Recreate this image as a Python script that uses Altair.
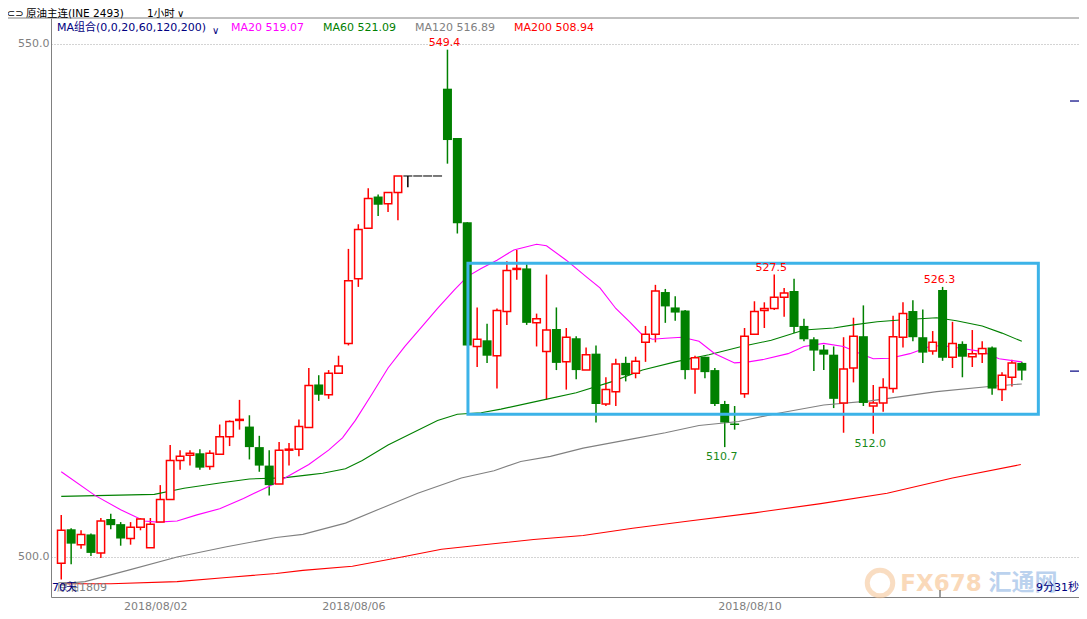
import altair as alt
import numpy as np
import pandas as pd

# ---------------- candle data (1 hour bars) ----------------
opens = [499.4, 502.7, 501.2, 502.2, 500.4, 503.7, 503.2, 501.8, 502.9, 500.9,
         503.4, 505.6, 509.4, 509.9, 510.1, 508.8, 510.0, 511.7, 513.3, 512.7,
         510.7, 508.9, 507.1, 510.4, 510.5, 512.6, 516.8, 515.8, 517.9, 520.8,
         527.1, 532.0, 535.1, 534.4, 535.5, 537.1, 537.1, 537.1, 537.1, 545.6,
         540.8, 532.6, 520.5, 521.1, 519.6, 523.9, 528.0, 528.1, 522.8, 520.0,
         522.2, 519.0, 521.3, 518.2, 519.8, 514.9, 516.1, 518.9, 517.9, 520.9,
         521.7, 525.8, 524.3, 524.0, 518.3, 519.5, 518.2, 514.9, 513.0, 515.9,
         521.7, 524.0, 524.2, 525.3, 525.9, 522.5, 521.2, 520.2, 519.7, 515.0,
         518.4, 521.5, 514.7, 515.0, 516.4, 521.4, 523.95, 521.4, 520.05, 526.0,
         519.45, 520.75, 519.5, 519.8, 520.4, 516.3, 517.5, 518.9]
highs = [504.1, 502.8, 502.6, 502.3, 503.8, 504.2, 503.4, 503.4, 503.8, 503.8,
         507.0, 510.9, 510.4, 510.4, 510.5, 510.4, 512.9, 513.3, 515.3, 513.8,
         511.8, 510.4, 511.2, 511.1, 513.4, 518.4, 517.7, 518.2, 519.6, 530.0,
         532.4, 535.9, 535.3, 535.5, 537.1, 537.1, 537.1, 537.1, 537.1, 549.4,
         540.8, 532.6, 524.3, 522.7, 524.2, 528.8, 529.9, 528.5, 523.7, 527.5,
         524.3, 522.3, 521.5, 520.4, 520.6, 517.5, 519.3, 519.5, 519.5, 522.5,
         526.5, 526.1, 525.4, 524.05, 519.6, 519.5, 518.4, 515.2, 514.7, 522.3,
         524.9, 524.8, 527.5, 526.2, 527.1, 523.2, 521.4, 520.65, 520.5, 521.4,
         523.3, 524.5, 516.75, 517.4, 523.5, 524.8, 525.0, 524.1, 522.0, 526.3,
         522.9, 521.0, 522.1, 521.0, 520.5, 518.0, 519.2, 519.0]
lows = [497.8, 499.3, 500.8, 500.1, 499.9, 502.7, 501.1, 501.2, 502.6, 500.9,
        503.4, 505.6, 508.5, 508.9, 508.5, 508.5, 510.0, 510.8, 512.4, 509.5,
        508.3, 506.0, 507.1, 508.9, 509.8, 512.6, 515.2, 515.4, 517.9, 520.6,
        526.3, 532.0, 533.2, 533.6, 532.8, 536.0, 537.1, 537.1, 537.1, 538.3,
        531.5, 520.6, 518.5, 518.9, 516.4, 522.6, 527.0, 522.6, 520.5, 515.3,
        518.2, 516.3, 517.3, 518.2, 513.1, 514.7, 514.7, 517.1, 517.4, 519.0,
        520.9, 522.8, 523.0, 517.3, 515.9, 517.4, 514.7, 510.7, 512.4, 515.5,
        521.7, 522.3, 524.05, 523.4, 521.8, 521.0, 518.1, 518.2, 514.5, 512.1,
        517.0, 514.7, 512.0, 514.15, 516.0, 520.4, 521.0, 518.9, 519.7, 519.1,
        518.4, 517.5, 518.5, 518.9, 515.8, 515.2, 516.6, 517.2]
closes = [502.6, 501.3, 502.2, 500.4, 503.5, 503.1, 501.8, 502.9, 503.7, 503.2,
          505.6, 509.4, 509.8, 510.1, 508.7, 510.1, 511.7, 513.2, 513.4, 510.7,
          508.9, 507.0, 510.4, 510.5, 512.7, 516.7, 515.8, 517.9, 518.6, 526.9,
          531.9, 534.9, 534.3, 535.5, 537.1, 537.1, 537.1, 537.1, 537.1, 540.6,
          532.5, 520.6, 521.2, 519.6, 524.0, 527.9, 528.1, 522.8, 523.2, 522.1,
          518.9, 521.4, 518.2, 519.7, 514.9, 516.3, 518.8, 517.7, 519.05, 521.7,
          525.9, 524.4, 523.8, 518.2, 519.4, 518.0, 514.9, 513.1, 512.85, 521.5,
          523.9, 524.2, 525.3, 525.7, 522.4, 521.2, 520.1, 519.7, 515.4, 518.3,
          521.5, 515.0, 515.0, 516.5, 521.45, 523.7, 521.4, 519.9, 520.9, 519.4,
          520.8, 519.5, 519.8, 520.3, 516.4, 517.7, 518.9, 518.15]

# ---------------- moving averages ----------------
ma20_i = [0, 3.4, 6.0, 8.4, 9.7, 11.7, 13.7, 16.0, 18.4, 21.0, 22.4, 25.0, 27.0, 28.4, 29.7,
          31.4, 33.0, 34.7, 36.4, 38.0, 39.7, 41.0, 42.4, 44.0, 45.7, 48.0, 49.0, 51.0, 53.0,
          54.4, 56.0, 57.4, 58.7, 59.7, 61.0, 62.7, 64.4, 66.0, 68.0, 69.4, 71.0, 73.4, 75.0,
          77.0, 79.0, 80.7, 82.0, 83.7, 85.7, 87.7, 89.0, 91.0, 93.0, 94.7, 97.0]
ma20_v = [508.3, 506.0, 504.6, 503.5, 503.4, 503.5, 504.1, 504.7, 505.7, 506.9, 507.6, 509.0,
          510.4, 511.6, 513.3, 515.9, 518.4, 520.5, 522.4, 524.2, 526.0, 527.3, 528.1, 528.9,
          529.9, 530.45, 530.3, 528.9, 527.3, 526.2, 524.2, 522.9, 521.6, 521.2, 521.3, 521.4,
          521.0, 519.8, 518.9, 519.0, 519.25, 519.8, 520.5, 520.8, 520.5, 519.8, 519.3, 519.35,
          519.8, 520.5, 520.6, 520.3, 520.0, 519.3, 519.0]
ma60_i = [0, 9.4, 12.4, 16.0, 19.0, 22.4, 25.0, 26.4, 28.7, 30.4, 33.0, 35.7, 38.0, 40.0, 42.4,
          44.4, 48.7, 52.0, 55.7, 58.7, 62.0, 65.4, 68.7, 71.7, 75.0, 78.0, 80.0, 82.4, 85.0,
          88.4, 90.4, 93.0, 95.0, 97.0]
ma60_v = [505.9, 506.1, 506.7, 507.2, 507.6, 507.7, 508.0, 508.15, 508.6, 509.4, 510.9, 512.2,
          513.3, 513.9, 514.05, 514.4, 515.3, 516.0, 517.1, 518.2, 519.0, 519.7, 520.5, 521.1,
          522.1, 522.3, 522.6, 522.9, 523.1, 523.3, 523.0, 522.5, 521.8, 521.0]
ma120_i = [0, 2.4, 6.7, 11.7, 16.7, 21.7, 24.4, 28.7, 32.7, 36.0, 40.4, 43.7, 46.4, 49.4, 52.7,
           57.7, 61.0, 64.4, 68.4, 72.4, 77.0, 81.7, 88.4, 93.7, 97.0]
ma120_v = [497.4, 497.6, 498.7, 500.0, 501.0, 501.9, 502.2, 503.3, 504.9, 506.2, 507.7, 508.4,
           509.3, 509.8, 510.6, 511.5, 512.1, 512.8, 513.2, 514.0, 514.8, 515.2, 516.1, 516.6,
           516.85]
ma200_i = [0, 5.0, 11.7, 16.7, 21.7, 24.4, 29.4, 34.4, 38.4, 41.7, 47.7, 52.7, 57.7, 63.4, 70.0,
           76.7, 83.4, 90.0, 96.9]
ma200_v = [497.4, 497.4, 497.6, 498.0, 498.4, 498.7, 499.1, 500.0, 500.75, 501.1, 501.7, 502.1,
           502.8, 503.5, 504.3, 505.2, 506.2, 507.7, 509.0]

# ---------------- annotations ----------------
hi_i = [39, 72, 89]
hi_v = [549.4, 527.5, 526.3]
lo_i = [67, 82]
lo_v = [510.7, 512.0]
box_i = [41.07, 98.67]
box_p = [513.9, 528.6]
marker_p = [544.4, 518.1]

date_pos = [9.5, 29.5, 69.5]
date_labels = ["2018/08/02", "2018/08/06", "2018/08/10"]
price_ticks = [500, 550]

legend_items = [("MA20 519.07", "#ff00ff", 180), ("MA60 521.09", "#008000", 272),
                ("MA120 516.89", "#808080", 364), ("MA200 508.94", "#ff0000", 463)]

# ---------------- build tables ----------------
df = pd.DataFrame({"i": list(range(len(opens))), "o": opens, "h": highs, "l": lows, "c": closes})
df["dir"] = np.where(df.c > df.o, "up", np.where(df.c < df.o, "down", "flat"))
df["top"] = df[["o", "c"]].max(axis=1)
df["bot"] = df[["o", "c"]].min(axis=1)

FONT = "DejaVu Sans, Noto Sans CJK SC"
xs = alt.Scale(domain=[-0.53, 102.27], nice=False, zero=False)
ys = alt.Scale(domain=[496.105, 552.483], nice=False, zero=False)

expr = "{" + ",".join(f"'{p}':'{l}'" for p, l in zip(date_pos, date_labels)) + "}[toString(datum.value)]"
x_axis = alt.Axis(values=date_pos, labelExpr=expr, title=None, ticks=False, grid=False,
                  domainColor="#808080", labelColor="#808080", labelFont="DejaVu Sans",
                  labelFontSize=11, labelPadding=3, labelOverlap=False, labelFlush=False)
y_axis = alt.Axis(values=price_ticks, format=".1f", title=None, ticks=False, grid=True,
                  gridColor="#a8a8a8", gridDash=[1, 2], domainColor="#808080",
                  labelColor="#808080", labelFont="DejaVu Sans", labelFontSize=11, labelPadding=2)


def XQ(field):
    return alt.X(f"{field}:Q", scale=xs, axis=x_axis)


def YQ(field):
    return alt.Y(f"{field}:Q", scale=ys, axis=y_axis)


base = alt.Chart(df)

wicks = base.mark_rule(strokeWidth=1.5).encode(
    x=XQ("i"), y=YQ("l"), y2="h:Q",
    color=alt.Color("dir:N", scale=alt.Scale(domain=["up", "down", "flat"],
                                             range=["#ff0000", "#008000", "#000000"]), legend=None),
)
up = base.transform_filter("datum.dir == 'up'").mark_bar(
    size=7.5, fill="white", stroke="#ff0000", strokeWidth=1.5).encode(
    x=XQ("i"), y=YQ("bot"), y2="top:Q")
down = base.transform_filter("datum.dir == 'down'").mark_bar(
    size=9, color="#008000").encode(x=XQ("i"), y=YQ("bot"), y2="top:Q")
flat = base.transform_filter("datum.dir == 'flat'").mark_tick(
    orient="horizontal", size=9, thickness=1.5, color="#000000").encode(x=XQ("i"), y=YQ("c"))


def ma_layer(ii, vv, color):
    d = pd.DataFrame({"i": ii, "v": vv})
    return alt.Chart(d).mark_line(color=color, strokeWidth=1.1).encode(x=XQ("i"), y=YQ("v"))


ma_lines = [ma_layer(ma200_i, ma200_v, "#ff0000"), ma_layer(ma120_i, ma120_v, "#808080"),
            ma_layer(ma60_i, ma60_v, "#008000"), ma_layer(ma20_i, ma20_v, "#ff00ff")]

box_df = pd.DataFrame({"x1": [box_i[0]], "x2": [box_i[1]], "y1": [box_p[0]], "y2": [box_p[1]]})
box = alt.Chart(box_df).mark_rect(fillOpacity=0, stroke="#3cb3e8", strokeWidth=3).encode(
    x=XQ("x1"), x2="x2:Q", y=YQ("y1"), y2="y2:Q")

hi_df = pd.DataFrame({"i": hi_i, "v": hi_v, "t": [f"{v:.1f}" for v in hi_v]})
lo_df = pd.DataFrame({"i": lo_i, "v": lo_v, "t": [f"{v:.1f}" for v in lo_v]})
hi_txt = alt.Chart(hi_df).mark_text(baseline="bottom", dy=-2, dx=-3, color="#ff0000",
                                    font="DejaVu Sans", fontSize=11).encode(
    x=XQ("i"), y=YQ("v"), text="t:N")
lo_txt = alt.Chart(lo_df).mark_text(baseline="top", dy=4, dx=-3, color="#1a8a1a",
                                    font="DejaVu Sans", fontSize=11).encode(
    x=XQ("i"), y=YQ("v"), text="t:N")

mk_df = pd.DataFrame({"p": marker_p})
markers = alt.Chart(mk_df).mark_rule(color="#000080", strokeWidth=1.2).encode(
    x=alt.value(1019), x2=alt.value(1028), y=YQ("p"))

one = pd.DataFrame({"a": [0]})


def txt(t, x, y, color, size=11, align="left", font=FONT, **kw):
    return alt.Chart(one).mark_text(text=t, align=align, baseline="middle", color=color,
                                    fontSize=size, font=font, **kw).encode(
        x=alt.value(x), y=alt.value(y))


deco = [
    # title bar
    alt.Chart(one).mark_rule(color="#808080", strokeWidth=1).encode(
        x=alt.value(-43), x2=alt.value(1028), y=alt.value(0)),
    txt("⊂⊃", -36, -4, "#000000", size=10, align="center"),
    txt("原油主连(INE 2493)", -25, -4, "#000000", size=10.5),
    txt("1小时", 96, -4, "#000000", size=10.5),
    txt("∨", 126, -4, "#000000", size=10),
    # MA legend
    txt("MA组合(0,0,20,60,120,200)", 6, 10, "#000080", size=11),
    txt("∨", 161, 13, "#000080", size=10),
    # watermark
    alt.Chart(one).mark_point(shape="circle", filled=False, size=650, strokeWidth=5,
                              color="#f6c79a", opacity=0.6).encode(
        x=alt.value(829), y=alt.value(565)),
    txt("FX678", 890, 566, "#f8c99c", size=23, align="center", font="DejaVu Sans",
        fontWeight="bold", opacity=0.7),
    txt("汇通网", 972, 565, "#9fbfe8", size=23, align="center", font="Noto Sans CJK SC",
        fontWeight="bold", opacity=0.7),
    # bottom texts
    txt("原油1809", 6, 570, "#808080", size=11),
    txt("70天", 1, 570, "#000080", size=11),
    txt("9分31秒", 1028, 570, "#000080", size=11, align="right"),
    alt.Chart(one).mark_rule(color="#404040").encode(
        x=alt.value(889), y=alt.value(572), y2=alt.value(579)),
]
for t, col, xp in legend_items:
    deco.append(txt(t, xp, 10, col, size=11, font="DejaVu Sans"))

chart = alt.layer(wicks, *ma_lines, up, down, flat, box, hi_txt, lo_txt, markers, *deco).properties(
    width=1028, height=579,
    padding={"left": 43, "top": 10, "right": 0, "bottom": 14},
    autosize=alt.AutoSizeParams(type="none"),
    background="white",
).configure_view(stroke=None)

chart.save("out.html", embed_options={"renderer": "svg", "actions": False})
